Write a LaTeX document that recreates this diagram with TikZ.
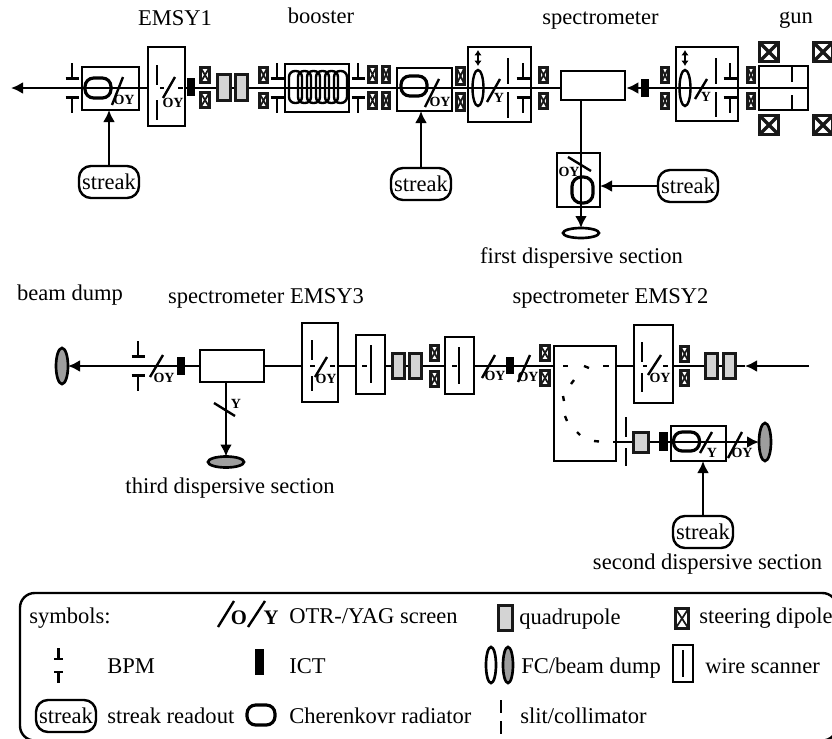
\documentclass[tikz,border=0pt]{standalone}
\usepackage{fontspec}
\setmainfont{Liberation Serif}
\usetikzlibrary{arrows.meta,shapes.geometric}

\begin{document}
\begin{tikzpicture}[
  x=0.75pt,y=-0.75pt,
  >=Latex,
  lbl/.style={font=\fontsize{16.9}{18}\selectfont,anchor=base,inner sep=0pt},
  lblw/.style={lbl,anchor=base west},
  oylab/.style={font=\bfseries\fontsize{10.5}{12}\selectfont,inner sep=0pt},
  biglab/.style={font=\bfseries\fontsize{15.5}{17}\selectfont,inner sep=0pt},
  ln/.style={line width=1.8pt},
  beam/.style={ln},
  beamarr/.style={ln,-{Latex[length=9pt,width=9pt]}},
  updown/.style={line width=1.4pt,{Latex[length=4pt,width=5.5pt]}-{Latex[length=4pt,width=5.5pt]}},
  elembox/.style 2 args={draw,line width=1.8pt,inner sep=0pt,outer sep=0pt,
    minimum width=#1*0.75pt,minimum height=#2*0.75pt},
  whitebox/.style 2 args={elembox={#1}{#2},fill=white},
  streakbox/.style={lbl,anchor=center,draw,line width=1.8pt,rounded corners=9pt,fill=white,
    minimum width=45pt,minimum height=24pt},
  quadbox/.style={draw=black!90,fill=black!17,line width=2.3pt},
  ictbox/.style={fill=black},
  dipolebox/.style={draw=black!90,fill=white,line width=2.4pt},
  dipolex/.style={draw=black!90,line width=1.3pt},
  coilbox/.style={draw=black!90,fill=white,line width=2.6pt},
  dumpopen/.style={ellipse,draw,line width=2pt,inner sep=0pt,outer sep=0pt,
    minimum width=#1},
  dumpopen/.default=9pt,
  dumpfill/.style={dumpopen,fill=black!38},
  bpm/.pic={
    \draw[ln] (-6.5,-9.5) -- (6.5,-9.5) (0,-9.5) -- (0,-25);
    \draw[ln] (-6.5,9.5) -- (6.5,9.5) (0,9.5) -- (0,25);
  },
  cherenkov/.pic={
    \draw[line width=2.4pt,rounded corners=6.5pt] (-13,-10) rectangle (13,10);
  },
]

% clip to the page
\clip (0,0) rectangle (832,739);

% ===================================================================
% LAYER 1: Line ends (spectrometers, gun, dumps)
% ===================================================================
\node[whitebox={64}{29}] (specA) at (593,85.5) {};
\node[whitebox={64}{32}] (specB) at (232,366) {};
\node[whitebox={62}{115}] (bendB) at (585,403.5) {};
\node[elembox={49}{44}] (gun) at (783.5,88) {};
\node[dumpopen,minimum width=36*0.75pt,minimum height=10*0.75pt] (dumpA) at (581,233) {};
\node[dumpfill,minimum width=12*0.75pt,minimum height=36*0.75pt] (dumpB) at (62,366) {};
\node[dumpfill,minimum width=36*0.75pt,minimum height=11*0.75pt] (dumpC) at (226,462) {};
\node[dumpfill,minimum width=12*0.75pt,minimum height=38*0.75pt] (dumpD) at (765,442) {};
\coordinate (exitA) at (11,88);
\coordinate (entryB) at (809,366);
\coordinate (tipB) at (745,366);

% ===================================================================
% LAYER 2: Beam lines
% ===================================================================
\draw[beamarr] (specA.west |- exitA) -- (exitA);
\draw[beamarr,shorten >=1pt] (gun.east) -- (gun.east -| specA.east);
\draw[beamarr] (dumpA |- specA.south) -- (dumpA);
\draw[beamarr] (specB) -- (dumpB);
\draw[beam] (bendB.west |- specB) -- (specB);
\draw[beamarr] (entryB) -- (tipB);
\draw[beam] (tipB) -- (tipB -| bendB.east);
\draw[beamarr] (bendB.east |- dumpD) -- (dumpD);
\draw[beamarr] (dumpC |- specB.south) -- (dumpC);

% ===================================================================
% LAYER 3: Boxes
% ===================================================================
\node[elembox={57}{43}] (scrA) at (110.5,88.5) {};
\node[whitebox={37}{79}] (emsyA) at (166.5,86.5) {};
\node[elembox={64}{48}] (boost) at (317,88) {};
\node[elembox={55}{43}] (scrB) at (424.5,89.5) {};
\node[elembox={63}{75}] (ybox) at (499.5,84.5) {};
\node[elembox={62}{74}] (yboxg) at (707,84) {};
\node[elembox={43}{54}] (scrC) at (578.5,180) {};
\node[whitebox={36}{79}] (emsyC) at (320,362.5) {};
\node[whitebox={29}{59}] (wireA) at (370.5,364.5) {};
\node[whitebox={29}{57}] (wireB) at (459.5,365.5) {};
\node[whitebox={39}{78}] (emsyB) at (653.5,364) {};
\node[elembox={55}{35}] (scrD) at (698.5,443.5) {};

% ===================================================================
% LAYER 4: Magnets, ICTs, BPMs
% ===================================================================
\foreach \a/\b/\c/\d in {199/66/211/84, 199/91/211/109, 258/66/269/84, 258/92/269/109,
  367/65/378/84, 381/65/391/84, 367/91/378/110, 381/91/391/110,
  455/66/466/86, 455/92/466/112, 538/66/549/84, 538/92/549/110,
  660/66/670/84, 660/92/670/110, 746/66/756/84, 746/92/756/110,
  429/344/440/362, 429/370/440/388, 539/344/551/362, 539/369/551/387,
  679/345/690/363, 679/369/690/387, 674/607/690/630} {
  \draw[dipolebox] (\a+1.5,\b+1.5) rectangle (\c-1.5,\d-1.5);
  \draw[dipolex] (\a+1.5,\b+1.5) -- (\c-1.5,\d-1.5) (\a+1.5,\d-1.5) -- (\c-1.5,\b+1.5);
}
\foreach \a/\b in {758/41, 812/41, 758/114, 812/114} {
  \draw[coilbox] (\a+1.5,\b+1.5) rectangle (\a+20.5,\b+20.5);
  \draw[coilbox] (\a+1.5,\b+1.5) -- (\a+20.5,\b+20.5) (\a+1.5,\b+20.5) -- (\a+20.5,\b+1.5);
}
\foreach \a/\b/\c/\d in {216/73/232/102, 234/73/249/102, 391/352/406/380, 408/352/423/380,
  704/352/719/380, 722/352/737/380, 632/431/650/454, 497/604/514/632}
  \draw[quadbox] (\a+1.5,\b+1.5) rectangle (\c-1.5,\d-1.5);
\foreach \a/\b/\c/\d in {187/78/195/96, 641/79/649/97, 177/357/185/375, 506/357/514/374,
  659/432/668/451, 255/649/264/675}
  \fill[ictbox] (\a,\b) rectangle (\c,\d);
\foreach \x/\y in {72/88, 277/88, 358/88, 523/88, 730/88, 138/366}
  \pic at (\x,\y) {bpm};

% booster coil
\foreach \i in {0,...,5}
  \draw[ln,rounded corners=4.5pt] (289+\i*9,71) rectangle (302+\i*9,103);

% gun iris
\draw[ln] (792,66) -- (792,82) (792,95) -- (792,110);

% ===================================================================
% LAYER 5: Radiators, lenses, wires, slits, screens
% ===================================================================
\pic at (98,88) {cherenkov};
\pic at (414,86) {cherenkov};
\pic[yscale=0.95] at (686.5,441.5) {cherenkov};
\draw[line width=2.4pt,rounded corners=7pt] (572,177) rectangle (593,203);
\draw[line width=2.4pt,rounded corners=6.5pt] (247,705) rectangle (275,725);

\foreach \x in {478,685} {
  \draw[updown] (\x,50) -- (\x,66);
  \draw[line width=1.8pt] (\x,88) ellipse (5.5 and 18);
}

% wires
\foreach \x/\a/\b/\c/\d in {157/65/85/100/120, 508/58/84/92/118, 716/58/84/92/117,
  312/340/360/376/391, 642/342/362/373/392, 626/417/437/448/466, 501/700/713/721/734}
  \draw[ln] (\x,\a) -- (\x,\b) (\x,\c) -- (\x,\d);
\foreach \x/\a/\b in {371/345/383, 459/347/384}
  \draw[ln] (\x,\a) -- (\x,\b);

% slit dashes
\foreach \a/\b/\c/\d in {160/88/164/88, 178/88/183/88, 310/366/315/366, 330/366/335/366,
  362/366/367/366, 384/366/386/366, 452/366/457/366, 643/366/647/366, 663/366/668/366,
  563/366/568/366, 584/366/589/368, 603/366/609/366, 571/384/574/380, 563/396/564/401,
  565/416/567/421, 577/432/580/435, 594/441/599/441.5, 613/442/616/442}
  \draw[ln] (\a,\b) -- (\c,\d);

% screens
\foreach \a/\b/\c/\d in {112/105/123/77, 163/98/175/77, 425/107/439/79, 487/102/500/79,
  695/99/707/79, 568/157/591/171, 150/377/163/355, 315/377/327/357, 482/378/495/355,
  518/382/530/355, 214/403/235/416, 648/375/661/355, 700/453/712/432, 728/458/742/432,
  218/627/234/601, 248/627/265/601}
  \draw[ln] (\a,\b) -- (\c,\d);

\foreach \x/\y [count=\n] in {124/100, 173/103, 440/102, 569/172, 164/378, 326/379,
  495/376, 528/377, 660/378, 742/453}
  \node[oylab] (oy\n) at (\x,\y) {OY};
\foreach \x/\y [count=\n] in {499/98, 706/97, 236/404, 712/453}
  \node[oylab] (yy\n) at (\x,\y) {Y};

% ===================================================================
% LAYER 6: Streak readouts
% ===================================================================
\node[streakbox] (streakA) at (109,182) {streak};
\node[streakbox] (streakB) at (421,184) {streak};
\node[streakbox] (streakC) at (688,186) {streak};
\node[streakbox] (streakD) at (703,532) {streak};
\draw[beamarr] (streakA) -- (streakA |- scrA.south);
\draw[beamarr] (streakB) -- (streakB |- scrB.south);
\draw[beamarr] (streakC) -- (streakC -| scrC.east);
\draw[beamarr] (streakD) -- (streakD |- scrD.south);

% ===================================================================
% LAYER 7: Section labels
% ===================================================================
\node[lbl] (tEmsyA) at (175,25) {EMSY1};
\node[lbl] (tBoost) at (321,23) {booster};
\node[lbl] (tSpecA) at (600.5,24) {spectrometer};
\node[lbl] (tGun) at (796,23) {gun};
\node[lbl] (tFirst) at (581.5,263) {first dispersive section};
\node[lbl] (tDump) at (70,300) {beam dump};
\node[lbl] (tSpecB) at (266,303) {spectrometer EMSY3};
\node[lbl] (tSpecC) at (610.5,303) {spectrometer EMSY2};
\node[lbl] (tThird) at (230,493) {third dispersive section};
\node[lbl] (tSecond) at (707.5,569) {second dispersive section};

% ===================================================================
% LAYER 8: Legend
% ===================================================================
\draw[line width=1.8pt,rounded corners=11pt] (20,593) rectangle (837,740.5);

\node[lblw] (kSym) at (29,623) {symbols:};
\node[biglab] (kO) at (239,618) {O};
\node[biglab] (kY) at (271,618) {Y};
\node[lblw] (kScr) at (289,623) {OTR-/YAG screen};
\node[lblw] (kQuad) at (519,624) {quadrupole};
\node[lblw] (kDip) at (699,623) {steering dipole};

\draw[ln] (54,659) -- (63,659) (58.5,648) -- (58.5,659);
\draw[ln] (54,672) -- (63,672) (58.5,672) -- (58.5,683);
\node[lblw] (kBpm) at (107,673) {BPM};
\node[lblw] (kIct) at (289,673) {ICT};
\node[dumpopen,minimum width=10*0.75pt,minimum height=36*0.75pt] (kFc) at (491,665) {};
\node[dumpfill,minimum width=10*0.75pt,minimum height=36*0.75pt] (kDmp) at (508,665) {};
\node[lblw] (kFcT) at (521,673) {FC/beam dump};
\node[elembox={20}{37}] (kWire) at (683,663.5) {};
\draw[ln] (683,650) -- (683,677);
\node[lblw] (kWireT) at (705,673) {wire scanner};

\node[streakbox] (kStreak) at (66,716) {streak};
\node[lblw] (kStr) at (107,723) {streak readout};
\node[lblw] (kChe) at (289,723) {Cherenkovr radiator};
\node[lblw] (kSlit) at (520,723) {slit/collimator};

\end{tikzpicture}
\end{document}
